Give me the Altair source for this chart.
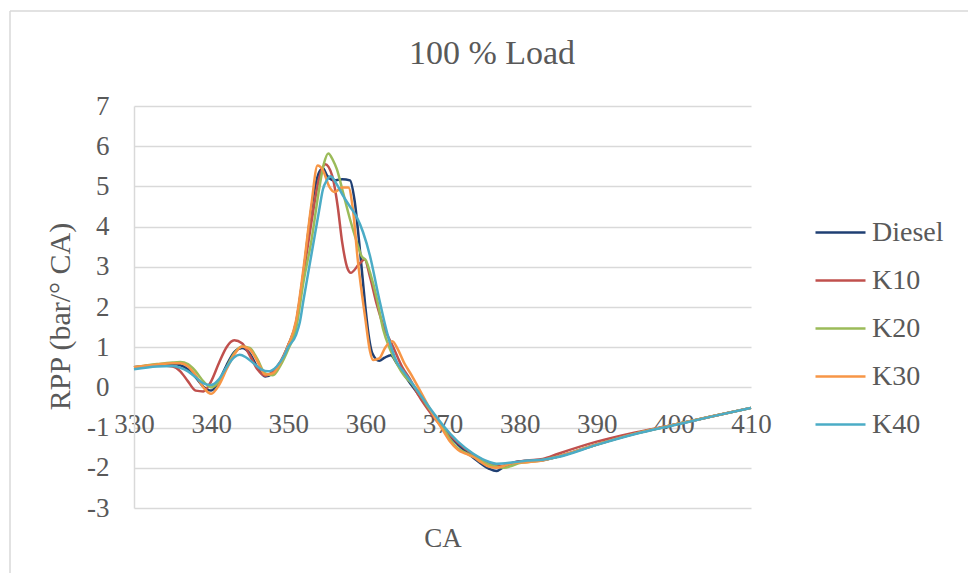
import altair as alt
import pandas as pd

series_names = ["Diesel", "K10", "K20", "K30", "K40"]
series_colors = ["#1F3F73", "#C0504D", "#9BBB59", "#F79646", "#4BACC6"]

x_ticks = [330, 340, 350, 360, 370, 380, 390, 400, 410]
y_ticks = [-3, -2, -1, 0, 1, 2, 3, 4, 5, 6, 7]
chart_title = "100 % Load"

diesel = [(330, 0.50), (333, 0.56), (335, 0.58), (336, 0.55), (337, 0.45), (338, 0.25),
          (339, 0.02), (340, -0.08), (341, 0.15), (342, 0.55), (343, 0.88), (344, 0.98),
          (345, 0.85), (346, 0.50), (347, 0.27), (348, 0.35), (349, 0.62), (350, 1.05),
          (351, 1.60), (352, 2.90), (353, 4.45), (354, 5.35), (354.5, 5.45), (355, 5.28),
          (356, 5.15), (357, 5.18), (358, 5.15), (358.6, 4.65), (359.2, 3.60), (359.6, 2.80),
          (360, 2.00), (360.5, 1.20), (360.9, 0.85), (361.8, 0.66), (362.5, 0.74), (363.3, 0.80),
          (364, 0.62), (365, 0.33), (366, 0.05), (367, -0.20), (368, -0.45), (369, -0.72),
          (370, -1.00), (372, -1.42), (374, -1.75), (376, -2.02), (377, -2.08), (378, -1.97),
          (380, -1.84), (383, -1.81), (385, -1.72), (390, -1.42), (395, -1.15), (400, -0.93),
          (405, -0.72), (410, -0.51)]

k10 = [(330, 0.50), (333, 0.55), (335, 0.52), (336, 0.40), (337, 0.15), (338, -0.08),
       (339, -0.10), (340, 0.15), (341, 0.60), (342, 1.00), (343, 1.17), (344, 1.10),
       (345, 0.80), (346, 0.45), (347, 0.29), (348, 0.40), (349, 0.65), (350, 1.05),
       (351, 1.55), (352, 2.85), (353, 4.10), (354, 5.20), (354.8, 5.55), (355.7, 5.26),
       (356.4, 4.52), (357, 3.60), (357.7, 2.95), (358.1, 2.85), (359.2, 3.07), (359.9, 3.18),
       (360.6, 2.75), (361.5, 2.05), (362.5, 1.45), (363.5, 1.05), (364.8, 0.50), (365.8, 0.20),
       (366.9, -0.20), (368.5, -0.65), (370, -1.00), (372, -1.38), (374, -1.67), (376, -1.88),
       (377.5, -1.96), (379, -1.88), (381, -1.82), (383, -1.78), (385, -1.65), (390, -1.35),
       (395, -1.12), (400, -0.93), (405, -0.72), (410, -0.51)]

k20 = [(330, 0.50), (333, 0.58), (335, 0.62), (336, 0.63), (337, 0.58), (338, 0.40),
       (339, 0.15), (340, 0.00), (341, 0.15), (342, 0.50), (343, 0.85), (344, 1.02),
       (345, 0.98), (346, 0.70), (347, 0.35), (348, 0.30), (349, 0.55), (350, 0.95),
       (351, 1.45), (352, 2.65), (353, 3.65), (354, 4.93), (354.6, 5.55), (355.2, 5.82),
       (355.8, 5.65), (356.3, 5.43), (357.1, 4.85), (358, 4.19), (358.9, 3.61), (359.5, 3.27),
       (360.1, 3.15), (360.6, 2.86), (361.5, 2.20), (362.3, 1.45), (363.2, 0.95), (364.2, 0.55),
       (365, 0.30), (366, 0.10), (367, -0.15), (368, -0.45), (369, -0.72), (370, -0.98),
       (371, -1.30), (372, -1.52), (373, -1.63), (374, -1.72), (375, -1.82), (376, -1.92),
       (377, -1.97), (378, -2.00), (379, -1.95), (380, -1.88), (382, -1.84), (385, -1.72),
       (390, -1.42), (395, -1.15), (400, -0.93), (405, -0.72), (410, -0.51)]

k30 = [(330, 0.50), (333, 0.57), (335, 0.60), (336, 0.60), (337, 0.52), (338, 0.30),
       (339, 0.00), (340, -0.16), (341, 0.05), (342, 0.45), (343, 0.82), (344, 1.02),
       (345, 0.95), (346, 0.65), (347, 0.32), (348, 0.35), (349, 0.62), (350, 1.05),
       (351, 1.65), (352, 3.00), (353, 4.55), (353.8, 5.52), (354.5, 5.40), (355.3, 5.00),
       (356, 4.86), (357, 4.97), (357.8, 4.97), (358.4, 4.40), (359, 3.20), (360, 1.70),
       (360.6, 0.90), (361, 0.68), (361.8, 0.72), (362.6, 1.00), (363.5, 1.15), (364.2, 0.95),
       (365, 0.62), (366, 0.30), (367, -0.05), (368, -0.40), (369, -0.75), (370, -1.05),
       (371, -1.35), (372, -1.55), (373, -1.65), (374, -1.73), (375, -1.86), (376, -1.97),
       (377, -2.00), (378, -1.95), (379, -1.89), (381, -1.86), (383, -1.82), (385, -1.72),
       (390, -1.42), (395, -1.15), (400, -0.93), (405, -0.72), (410, -0.51)]

k40 = [(330, 0.45), (333, 0.52), (335, 0.53), (336, 0.49), (337, 0.40), (338, 0.25),
       (339, 0.10), (340, 0.06), (341, 0.20), (342, 0.50), (343, 0.75), (343.7, 0.81),
       (344.5, 0.75), (345.5, 0.60), (346.5, 0.45), (347.4, 0.40), (348.5, 0.52), (349.5, 0.80),
       (350, 1.00), (351, 1.30), (351.5, 1.62), (352, 2.20), (353, 3.30), (354, 4.40),
       (354.5, 4.93), (355, 5.15), (355.5, 5.25), (356.3, 5.05), (357.1, 4.77), (358, 4.50),
       (358.9, 4.23), (359.7, 3.86), (360.6, 3.27), (361.7, 2.28), (362.8, 1.37), (364.1, 0.62),
       (365, 0.38), (366, 0.12), (367, -0.15), (368, -0.42), (369, -0.68), (370, -0.93),
       (372, -1.35), (374, -1.65), (376, -1.85), (377, -1.90), (379, -1.87), (381, -1.82),
       (383, -1.80), (385, -1.73), (390, -1.43), (395, -1.16), (400, -0.94), (405, -0.72),
       (410, -0.51)]

rows = []
for name, pts in zip(series_names, [diesel, k10, k20, k30, k40]):
    for ca, v in pts:
        rows.append({"CA": ca, "RPP": v, "Fuel": name})
df = pd.DataFrame(rows)

FONT = "Liberation Serif"
TXT = "#595959"
GRID = "#d9d9d9"

W, H = 617, 402
LEFT, TOP = 134, 106
zero_from_bottom = H * 3 / 10.0
zero_y = TOP + H * 7 / 10.0

lines = alt.Chart(df).mark_line(interpolate="monotone", strokeWidth=2.5).encode(
    x=alt.X(
        "CA:Q",
        scale=alt.Scale(domain=[330, 410], nice=False, zero=False),
        axis=alt.Axis(
            values=x_ticks, title="CA", grid=False, ticks=False, domain=False,
            offset=-zero_from_bottom, labelBaseline="alphabetic", labelPadding=432 - zero_y,
            labelFontSize=27, labelFont=FONT, labelColor=TXT, labelFlush=False,
            labelExpr="toString(datum.value)",
            titleFont=FONT, titleFontSize=27, titleFontWeight="normal", titleColor=TXT,
            titleBaseline="alphabetic", titleY=546 - zero_y,
        ),
    ),
    y=alt.Y(
        "RPP:Q",
        scale=alt.Scale(domain=[-3, 7], nice=False, zero=False),
        axis=alt.Axis(
            values=y_ticks, title="RPP (bar/° CA)", grid=True, gridColor=GRID, gridWidth=1.5,
            ticks=False, domain=True, domainColor=GRID, domainWidth=1.5,
            labelPadding=25, labelFontSize=27, labelFont=FONT, labelColor=TXT,
            labelExpr="toString(datum.value)",
            titleFont=FONT, titleFontSize=30, titleFontWeight="normal", titleColor=TXT,
            titleAngle=-90, titleX=60 - LEFT, titleY=316 - TOP, titleAlign="center",
            titleBaseline="middle",
        ),
    ),
    color=alt.Color(
        "Fuel:N",
        scale=alt.Scale(domain=series_names, range=series_colors),
        legend=alt.Legend(
            orient="none", legendX=814 - LEFT, legendY=232 - 26 - TOP, title=None,
            symbolType="stroke", symbolSize=2500, symbolStrokeWidth=2.5,
            labelFont=FONT, labelFontSize=28, labelColor=TXT, labelOffset=5,
            rowPadding=7, padding=0,
        ),
    ),
)

frame = pd.DataFrame({"k": [0]})
border_left = alt.Chart(frame).mark_rule(color=GRID, strokeWidth=1.5).encode(
    x=alt.value(10 - LEFT), y=alt.value(11 - TOP), y2=alt.value(573 - TOP)
)
border_top = alt.Chart(frame).mark_rule(color=GRID, strokeWidth=1.5).encode(
    x=alt.value(10 - LEFT), x2=alt.value(968 - LEFT), y=alt.value(11 - TOP)
)
title_text = alt.Chart(frame).mark_text(
    text=chart_title, font=FONT, fontSize=34, color=TXT, align="center", baseline="alphabetic"
).encode(x=alt.value(492 - LEFT), y=alt.value(64 - TOP))

chart = alt.layer(border_left, border_top, title_text, lines).properties(
    width=W,
    height=H,
    padding={"left": LEFT, "top": TOP, "right": 968 - LEFT - W, "bottom": 573 - TOP - H},
    autosize=alt.AutoSizeParams(type="none"),
    background="white",
).configure_view(stroke=None)

chart.save("out.html", embed_options={"renderer": "svg", "actions": False})
